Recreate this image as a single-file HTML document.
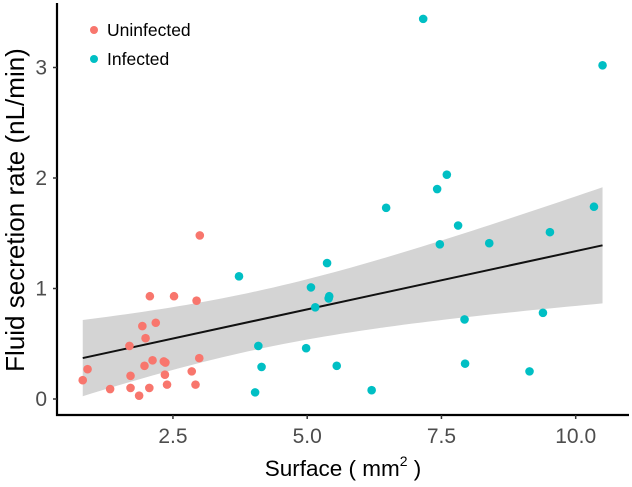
<!DOCTYPE html>
<html><head><meta charset="utf-8"><style>
html,body{margin:0;padding:0;background:#fff;}
svg{display:block;font-family:"Liberation Sans",sans-serif;}
</style></head><body>
<svg id="chart" width="632" height="487" viewBox="0 0 632 487">
<g id="band"></g>
<g id="fit"></g>
<g id="pts"></g>
<g id="axes"></g>
<text x="17" y="210" transform="rotate(-90 17 210)" text-anchor="middle" dominant-baseline="middle" font-size="26" fill="#000">Fluid secretion rate (nL/min)</text>
<text x="343" y="476" text-anchor="middle" font-size="22.5" fill="#000">Surface ( mm<tspan dy="-10" font-size="14">2</tspan><tspan dy="10"> )</tspan></text>
<g>
<circle cx="94" cy="30" r="4" fill="#F8766D"/>
<text x="107" y="36" font-size="17.5" fill="#000">Uninfected</text>
<circle cx="94" cy="59" r="4" fill="#00BFC4"/>
<text x="107" y="65" font-size="17.5" fill="#000">Infected</text>
</g>
</svg>
<script>
const uninfX=[0.82,0.91,1.33,1.69,1.71,1.71,1.87,1.93,1.99,1.97,2.06,2.07,2.12,2.18,2.33,2.35,2.36,2.39,2.52,2.85,2.92,2.94,2.99,3.00];
const uninfY=[0.17,0.27,0.09,0.48,0.21,0.10,0.03,0.66,0.55,0.30,0.10,0.93,0.35,0.69,0.34,0.22,0.33,0.13,0.93,0.25,0.13,0.89,0.37,1.48];
const infX=[3.73,4.09,4.15,4.03,4.98,5.07,5.15,7.16,10.50,7.60,7.42,6.47,10.34,7.81,9.52,7.47,8.39,5.37,5.41,5.40,7.93,9.39,5.55,7.94,9.14,6.20];
const infY=[1.11,0.48,0.29,0.06,0.46,1.01,0.83,3.44,3.02,2.03,1.90,1.73,1.74,1.57,1.51,1.40,1.41,1.23,0.93,0.91,0.72,0.78,0.30,0.32,0.25,0.08];
// fitted model (intercept, slope) and CI half-width params (c, d, centre)
const fitCoef=[0.284,0.1054];
const bandCoef=[0.0696,0.00489,4.0];
const xTicks=[2.5,5.0,7.5,10.0];
const xTickLabels=["2.5","5.0","7.5","10.0"];
const yTicks=[0,1,2,3];
const yTickLabels=["0","1","2","3"];
const NS="http://www.w3.org/2000/svg";
function sx(v){return 38.7+v*53.7;}
function sy(v){return 399-v*110.5;}
function mk(tag,attrs,parent){const e=document.createElementNS(NS,tag);for(const k in attrs)e.setAttribute(k,attrs[k]);parent.appendChild(e);return e;}
const X=uninfX.concat(infX);
const a=fitCoef[0],b=fitCoef[1];
const x0=Math.min(...X),x1=Math.max(...X);
let up=[],lo=[];
for(let k=0;k<=60;k++){const x=x0+(x1-x0)*k/60;const f=a+b*x;const hw=Math.sqrt(bandCoef[0]+bandCoef[1]*(x-bandCoef[2])**2);up.push(sx(x)+","+sy(f+hw));lo.unshift(sx(x)+","+sy(f-hw));}
const band=document.getElementById('band');
const bp=mk('polygon',{points:up.concat(lo).join(" "),fill:"#d4d4d4"},band);


const ln=mk('line',{x1:sx(x0),y1:sy(a+b*x0),x2:sx(x1),y2:sy(a+b*x1),stroke:"#111","stroke-width":2},document.getElementById('fit'));


const pts=document.getElementById('pts');
for(let i=0;i<uninfX.length;i++){const c=mk('circle',{cx:sx(uninfX[i]),cy:sy(uninfY[i]),r:4.3,fill:"#F8766D"},pts);

}
for(let i=0;i<infX.length;i++){const c=mk('circle',{cx:sx(infX[i]),cy:sy(infY[i]),r:4.3,fill:"#00BFC4"},pts);

}
const axes=document.getElementById('axes');
const ya=mk('line',{x1:57,y1:3,x2:57,y2:416,stroke:"#000","stroke-width":2.2},axes);


const xa=mk('line',{x1:56,y1:415,x2:629,y2:415,stroke:"#000","stroke-width":2.2},axes);


for(let i=0;i<yTicks.length;i++){const y=sy(yTicks[i]);
const tk=mk('line',{x1:53,y1:y,x2:57,y2:y,stroke:"#333","stroke-width":1.5},axes);


const tx=mk('text',{x:47,y:y+7,"text-anchor":"end","font-size":21,fill:"#4d4d4d"},axes);tx.textContent=yTickLabels[i];

}
for(let i=0;i<xTicks.length;i++){const x=sx(xTicks[i]);
const tk=mk('line',{x1:x,y1:415,x2:x,y2:419,stroke:"#333","stroke-width":1.5},axes);


const tx=mk('text',{x:x,y:443,"text-anchor":"middle","font-size":21,fill:"#4d4d4d"},axes);tx.textContent=xTickLabels[i];

}
</script>
</body></html>
